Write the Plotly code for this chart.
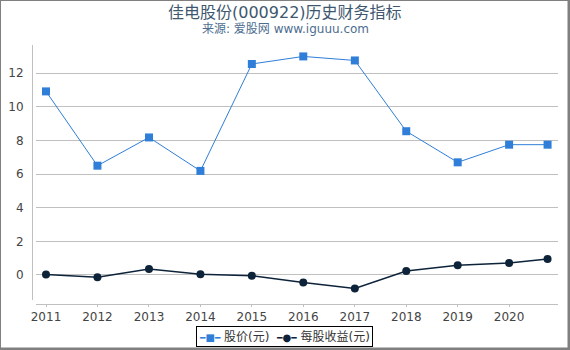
import plotly.graph_objects as go

dates = ["2011-01-01", "2012-01-01", "2013-01-01", "2014-01-01", "2015-01-01",
         "2016-01-01", "2017-01-01", "2018-01-01", "2019-01-01", "2020-01-01", "2020-09-30"]
price = [10.92, 6.5, 8.18, 6.19, 12.55, 13.0, 12.76, 8.55, 6.7, 7.75, 7.75]
eps = [0.02, -0.14, 0.36, 0.04, -0.04, -0.45, -0.8, 0.24, 0.58, 0.71, 0.95]
tick_vals = ["2011-01-01", "2012-01-01", "2013-01-01", "2014-01-01", "2015-01-01",
             "2016-01-01", "2017-01-01", "2018-01-01", "2019-01-01", "2020-01-01"]
tick_text = ["2011", "2012", "2013", "2014", "2015", "2016", "2017", "2018", "2019", "2020"]
series_names = ["股价(元)", "每股收益(元)"]
title_text = "佳电股份(000922)历史财务指标"
subtitle_text = "来源: 爱股网 www.iguuu.com"

FONT = "DejaVu Sans, Noto Sans CJK SC, sans-serif"
C1, C2 = "#2f7ed8", "#0d233a"

fig = go.Figure()
fig.add_trace(go.Scatter(x=dates, y=price, mode="lines+markers", name=series_names[0],
                         line=dict(color=C1, width=1),
                         marker=dict(symbol="square", size=8, color=C1)))
fig.add_trace(go.Scatter(x=dates, y=eps, mode="lines+markers", name=series_names[1],
                         line=dict(color=C2, width=1.5),
                         marker=dict(symbol="circle", size=8, color=C2)))

W, H = 570, 350
L, R, T, B = 32, 12, 45, 46
pw, ph = W - L - R, H - T - B

def px(x):
    return (x - L) / pw

def py(y):
    return (H - B - y) / ph

shapes = [
    dict(type="line", xref="paper", yref="paper", x0=px(0.5), x1=px(0.5), y0=py(0), y1=py(350), line=dict(color="#808080", width=1)),
    dict(type="line", xref="paper", yref="paper", x0=px(0), x1=px(570), y0=py(0.5), y1=py(0.5), line=dict(color="#808080", width=1)),
    dict(type="line", xref="paper", yref="paper", x0=px(568.75), x1=px(568.75), y0=py(0), y1=py(350), line=dict(color="#808080", width=2.5)),
    dict(type="line", xref="paper", yref="paper", x0=px(0), x1=px(570), y0=py(348.75), y1=py(348.75), line=dict(color="#808080", width=2.5)),
]

legend_text = (f"<span style='color:{C1};font-size:9px'>━</span><span style='color:{C1};font-size:10px'>■</span>"
               f"<span style='color:{C1};font-size:9px'>━</span> {series_names[0]}  "
               f"<span style='color:{C2};font-size:9px'>━</span><span style='color:{C2};font-size:10px'>●</span>"
               f"<span style='color:{C2};font-size:9px'>━</span> {series_names[1]}")

annotations = [
    dict(text=title_text, xref="paper", yref="paper", x=px(285), y=py(12), xanchor="center", yanchor="middle",
         showarrow=False, font=dict(size=16, color="#3E576F", family=FONT)),
    dict(text=subtitle_text, xref="paper", yref="paper", x=px(285), y=py(28.5), xanchor="center", yanchor="middle",
         showarrow=False, font=dict(size=12, color="#4d6d8f", family=FONT)),
    dict(text=legend_text, xref="paper", yref="paper", x=px(284.5), y=py(336), xanchor="center", yanchor="middle",
         showarrow=False, font=dict(size=12, color="#333", family=FONT),
         bordercolor="#000", borderwidth=1, borderpad=2, bgcolor="white"),
]

fig.update_layout(
    width=W, height=H,
    margin=dict(l=L, r=R, t=T, b=B, autoexpand=False),
    paper_bgcolor="white", plot_bgcolor="white",
    font=dict(family=FONT, size=12, color="#444"),
    xaxis=dict(type="date", domain=[4 / pw, 1], range=["2010-10-22", "2020-12-13"],
               tickvals=tick_vals, ticktext=tick_text, anchor="free", position=0,
               showline=True, linecolor="#C0C0C0", linewidth=1, showgrid=False,
               ticks="outside", ticklen=2, tickcolor="#C0C0C0",
               tickfont=dict(size=12, color="#444"), zeroline=False),
    yaxis=dict(domain=[4 / ph, 1], range=[-1.49, 13.68], anchor="free", position=0,
               tickvals=[0, 2, 4, 6, 8, 10, 12], showline=True, linecolor="#C0C0C0", linewidth=1,
               showgrid=True, gridcolor="#C0C0C0", gridwidth=1, zeroline=False,
               ticks="", ticklabelstandoff=6, tickfont=dict(size=12, color="#444")),
    showlegend=False,
    shapes=shapes,
    annotations=annotations,
)

fig.write_html("out.html")
